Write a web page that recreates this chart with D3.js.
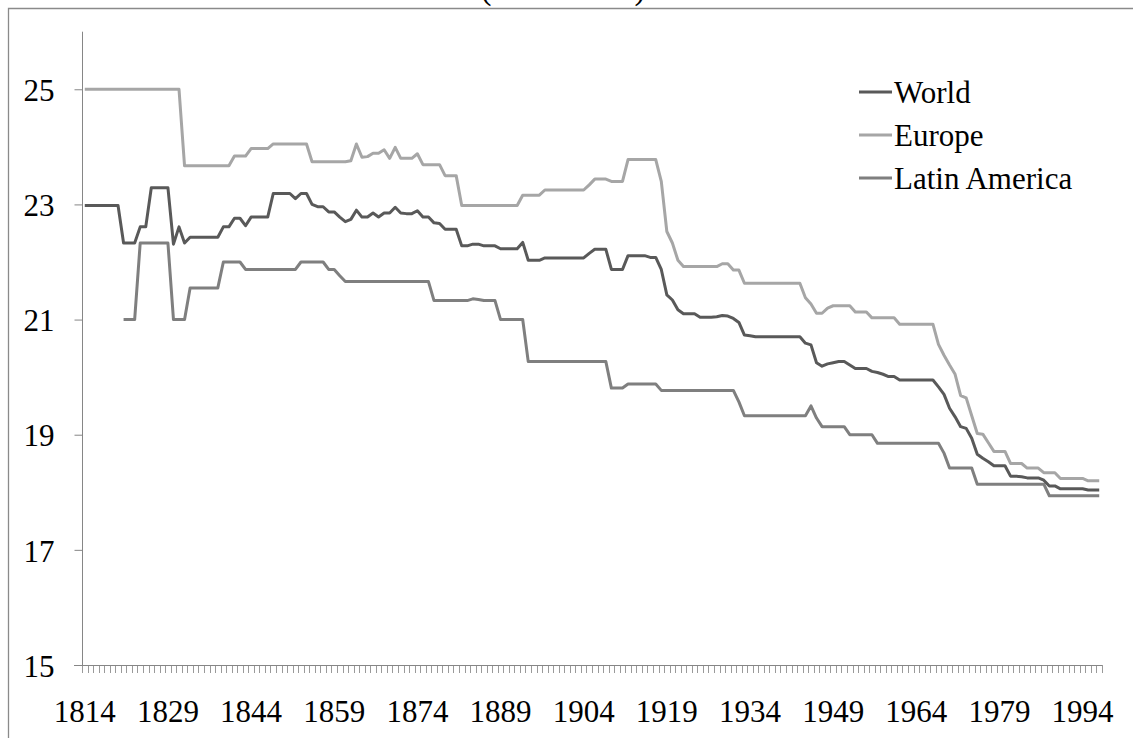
<!DOCTYPE html>
<html>
<head>
<meta charset="utf-8">
<script src="https://cdn.jsdelivr.net/npm/d3@7"></script>
<style>
  html, body { margin: 0; padding: 0; background: #ffffff; }
  svg { display: block; }
  text { font-family: "Liberation Serif", "Times New Roman", Times, serif; fill: #000; }
</style>
</head>
<body>
<svg id="chart" width="1133" height="738"></svg>
<script>
// ---------- DATA ----------
const titleText = "(1814-1997)";

const years = d3.range(1814, 1998); // 1814 .. 1997 categories

const tickLabelYears = [1814, 1829, 1844, 1859, 1874, 1889, 1904, 1919, 1934, 1949, 1964, 1979, 1994];
const yTickValues = [15, 17, 19, 21, 23, 25];

const seriesNames = ["World", "Europe", "Latin America"];

const worldValues = [
  // 1814-1823
  22.98, 22.98, 22.98, 22.98, 22.98, 22.98, 22.98, 22.33, 22.33, 22.33,
  // 1824-1833
  22.61, 22.61, 23.29, 23.29, 23.29, 23.29, 22.31, 22.61, 22.33, 22.43,
  // 1834-1843
  22.43, 22.43, 22.43, 22.43, 22.43, 22.61, 22.61, 22.76, 22.76, 22.63,
  // 1844-1853
  22.78, 22.78, 22.78, 22.78, 23.19, 23.19, 23.19, 23.19, 23.10, 23.19,
  // 1854-1863
  23.19, 23.00, 22.96, 22.96, 22.87, 22.87, 22.78, 22.70, 22.74, 22.90,
  // 1864-1873
  22.78, 22.78, 22.85, 22.78, 22.85, 22.85, 22.95, 22.85, 22.84, 22.84,
  // 1874-1883
  22.89, 22.78, 22.78, 22.68, 22.67, 22.57, 22.57, 22.57, 22.28, 22.28,
  // 1884-1893
  22.31, 22.31, 22.28, 22.28, 22.28, 22.23, 22.23, 22.23, 22.23, 22.34,
  // 1894-1903
  22.03, 22.03, 22.03, 22.07, 22.07, 22.07, 22.07, 22.07, 22.07, 22.07,
  // 1904-1913
  22.07, 22.15, 22.22, 22.22, 22.22, 21.87, 21.87, 21.87, 22.11, 22.11,
  // 1914-1923
  22.11, 22.11, 22.08, 22.08, 21.87, 21.43, 21.34, 21.17, 21.10, 21.10,
  // 1924-1933
  21.10, 21.04, 21.04, 21.04, 21.05, 21.07, 21.06, 21.02, 20.95, 20.73,
  // 1934-1943
  20.72, 20.70, 20.70, 20.70, 20.70, 20.70, 20.70, 20.70, 20.70, 20.70,
  // 1944-1953
  20.59, 20.56, 20.25, 20.19, 20.23, 20.25, 20.27, 20.27, 20.21, 20.15,
  // 1954-1963
  20.15, 20.15, 20.10, 20.08, 20.05, 20.01, 20.01, 19.95, 19.95, 19.95,
  // 1964-1973
  19.95, 19.95, 19.95, 19.95, 19.83, 19.70, 19.46, 19.31, 19.14, 19.11,
  // 1974-1983
  18.94, 18.66, 18.59, 18.53, 18.46, 18.46, 18.46, 18.28, 18.28, 18.27,
  // 1984-1993
  18.25, 18.25, 18.25, 18.21, 18.11, 18.11, 18.06, 18.06, 18.06, 18.06,
  // 1994-1997
  18.06, 18.04, 18.04, 18.04
];

const europeValues = [
  // 1814-1823
  25.00, 25.00, 25.00, 25.00, 25.00, 25.00, 25.00, 25.00, 25.00, 25.00,
  // 1824-1833
  25.00, 25.00, 25.00, 25.00, 25.00, 25.00, 25.00, 25.00, 23.67, 23.67,
  // 1834-1843
  23.67, 23.67, 23.67, 23.67, 23.67, 23.67, 23.67, 23.84, 23.84, 23.84,
  // 1844-1853
  23.97, 23.97, 23.97, 23.97, 24.05, 24.05, 24.05, 24.05, 24.05, 24.05,
  // 1854-1863
  24.05, 23.74, 23.74, 23.74, 23.74, 23.74, 23.74, 23.74, 23.76, 24.05,
  // 1864-1873
  23.82, 23.83, 23.89, 23.89, 23.95, 23.80, 23.99, 23.80, 23.80, 23.80,
  // 1874-1883
  23.88, 23.69, 23.69, 23.69, 23.69, 23.50, 23.50, 23.50, 22.98, 22.98,
  // 1884-1893
  22.98, 22.98, 22.98, 22.98, 22.98, 22.98, 22.98, 22.98, 22.98, 23.16,
  // 1894-1903
  23.16, 23.16, 23.16, 23.25, 23.25, 23.25, 23.25, 23.25, 23.25, 23.25,
  // 1904-1913
  23.25, 23.34, 23.44, 23.44, 23.44, 23.40, 23.40, 23.40, 23.78, 23.78,
  // 1914-1923
  23.78, 23.78, 23.78, 23.78, 23.40, 22.53, 22.33, 22.03, 21.92, 21.92,
  // 1924-1933
  21.92, 21.92, 21.92, 21.92, 21.92, 21.97, 21.97, 21.86, 21.86, 21.63,
  // 1934-1943
  21.63, 21.63, 21.63, 21.63, 21.63, 21.63, 21.63, 21.63, 21.63, 21.63,
  // 1944-1953
  21.38, 21.27, 21.11, 21.11, 21.20, 21.24, 21.24, 21.24, 21.24, 21.13,
  // 1954-1963
  21.13, 21.13, 21.03, 21.03, 21.03, 21.03, 21.03, 20.92, 20.92, 20.92,
  // 1964-1973
  20.92, 20.92, 20.92, 20.92, 20.57, 20.38, 20.21, 20.05, 19.68, 19.64,
  // 1974-1983
  19.33, 19.02, 19.01, 18.86, 18.71, 18.71, 18.71, 18.50, 18.50, 18.50,
  // 1984-1993
  18.42, 18.42, 18.42, 18.34, 18.34, 18.34, 18.24, 18.24, 18.24, 18.24,
  // 1994-1997
  18.24, 18.20, 18.20, 18.20
];

const latinAmericaValues = [
  // 1814-1823
  null, null, null, null, null, null, null, 21.00, 21.00, 21.00,
  // 1824-1833
  22.33, 22.33, 22.33, 22.33, 22.33, 22.33, 21.00, 21.00, 21.00, 21.55,
  // 1834-1843
  21.55, 21.55, 21.55, 21.55, 21.55, 22.00, 22.00, 22.00, 22.00, 21.87,
  // 1844-1853
  21.87, 21.87, 21.87, 21.87, 21.87, 21.87, 21.87, 21.87, 21.87, 22.00,
  // 1854-1863
  22.00, 22.00, 22.00, 22.00, 21.87, 21.87, 21.76, 21.66, 21.66, 21.66,
  // 1864-1873
  21.66, 21.66, 21.66, 21.66, 21.66, 21.66, 21.66, 21.66, 21.66, 21.66,
  // 1874-1883
  21.66, 21.66, 21.66, 21.33, 21.33, 21.33, 21.33, 21.33, 21.33, 21.33,
  // 1884-1893
  21.36, 21.35, 21.33, 21.33, 21.33, 21.00, 21.00, 21.00, 21.00, 21.00,
  // 1894-1903
  20.27, 20.27, 20.27, 20.27, 20.27, 20.27, 20.27, 20.27, 20.27, 20.27,
  // 1904-1913
  20.27, 20.27, 20.27, 20.27, 20.27, 19.81, 19.81, 19.81, 19.88, 19.88,
  // 1914-1923
  19.88, 19.88, 19.88, 19.88, 19.77, 19.77, 19.77, 19.77, 19.77, 19.77,
  // 1924-1933
  19.77, 19.77, 19.77, 19.77, 19.77, 19.77, 19.77, 19.77, 19.57, 19.33,
  // 1934-1943
  19.33, 19.33, 19.33, 19.33, 19.33, 19.33, 19.33, 19.33, 19.33, 19.33,
  // 1944-1953
  19.33, 19.50, 19.29, 19.14, 19.14, 19.14, 19.14, 19.14, 19.00, 19.00,
  // 1954-1963
  19.00, 19.00, 19.00, 18.85, 18.85, 18.85, 18.85, 18.85, 18.85, 18.85,
  // 1964-1973
  18.85, 18.85, 18.85, 18.85, 18.85, 18.68, 18.42, 18.42, 18.42, 18.42,
  // 1974-1983
  18.42, 18.14, 18.14, 18.14, 18.14, 18.14, 18.14, 18.14, 18.14, 18.14,
  // 1984-1993
  18.14, 18.14, 18.14, 18.14, 17.94, 17.94, 17.94, 17.94, 17.94, 17.94,
  // 1994-1997
  17.94, 17.94, 17.94, 17.94
];

const seriesColors = ["#595959", "#a6a6a6", "#7f7f7f"];

// ---------- CHART ----------
const svg = d3.select("#chart");
const W = 1133, H = 738;
const plot = { left: 82, right: 1102, top: 31.7, bottom: 665 };
const FONT = 31;

svg.append("rect").attr("width", W).attr("height", H).attr("fill", "#fff");

// chart-area border (partially visible)
svg.append("path")
  .attr("d", `M8.5,${H} V8.5 H${W}`)
  .attr("fill", "none").attr("stroke", "#8a8a8a").attr("stroke-width", 1.3);

// title (cut off at top; only the bottoms of parentheses show)
svg.append("text")
  .attr("x", 563).attr("y", -1.5)
  .attr("text-anchor", "middle")
  .attr("font-size", 33)
  .text(titleText);

const x = d3.scaleBand().domain(years).range([plot.left, plot.right]).paddingInner(0).paddingOuter(0);
const y = d3.scaleLinear().domain([15, 26]).range([plot.bottom, plot.top]);

// Y axis
const yAxis = d3.axisLeft(y).tickValues(yTickValues).tickSize(8).tickPadding(20).tickFormat(d3.format("d"));
const gy = svg.append("g").attr("transform", `translate(${plot.left + 0.5},0)`).call(yAxis);
gy.select(".domain").attr("stroke", "#868686").attr("d", `M0,${y(26)}V${plot.bottom}`);
gy.selectAll(".tick line").attr("stroke", "#868686");
gy.selectAll(".tick text").attr("font-size", FONT).attr("font-family", '"Liberation Serif", "Times New Roman", serif').attr("dy", "0.36em").attr("fill", "#000");

// X axis: category ticks at every boundary
const boundaries = years.map(yr => x(yr)).concat([plot.right]);
const gx = svg.append("g");
gx.selectAll("line.tk").data(boundaries).join("line")
  .attr("class", "tk")
  .attr("x1", d => Math.round(d) + 0.5).attr("x2", d => Math.round(d) + 0.5)
  .attr("y1", plot.bottom).attr("y2", plot.bottom + 8)
  .attr("stroke", "#9a9a9a").attr("stroke-width", 1);
gx.append("line")
  .attr("x1", plot.left - 8).attr("x2", plot.right)
  .attr("y1", plot.bottom + 0.5).attr("y2", plot.bottom + 0.5)
  .attr("stroke", "#868686").attr("stroke-width", 1);
gx.selectAll("text.lbl").data(tickLabelYears).join("text")
  .attr("class", "lbl")
  .attr("x", d => x(d) + x.bandwidth() / 2)
  .attr("y", 722)
  .attr("text-anchor", "middle")
  .attr("font-size", FONT)
  .text(d => d);

// Lines
const seriesData = [worldValues, europeValues, latinAmericaValues];
const line = d3.line()
  .defined(d => d.v !== null)
  .x(d => x(d.yr) + x.bandwidth() / 2)
  .y(d => y(d.v));

// draw order: Latin America, Europe, World on top
[2, 1, 0].forEach(i => {
  const pts = years.map((yr, k) => ({ yr, v: seriesData[i][k] }));
  svg.append("path")
    .datum(pts)
    .attr("fill", "none")
    .attr("stroke", seriesColors[i])
    .attr("stroke-width", 3)
    .attr("stroke-linejoin", "round")
    .attr("d", line);
});

// Legend
const legendY = [92, 135, 178];
const lg = svg.append("g");
seriesNames.forEach((name, i) => {
  lg.append("line")
    .attr("x1", 859).attr("x2", 892)
    .attr("y1", legendY[i]).attr("y2", legendY[i])
    .attr("stroke", seriesColors[i]).attr("stroke-width", 3);
  lg.append("text")
    .attr("x", 894).attr("y", legendY[i] + 11)
    .attr("font-size", FONT)
    .text(name);
});
</script>
</body>
</html>
